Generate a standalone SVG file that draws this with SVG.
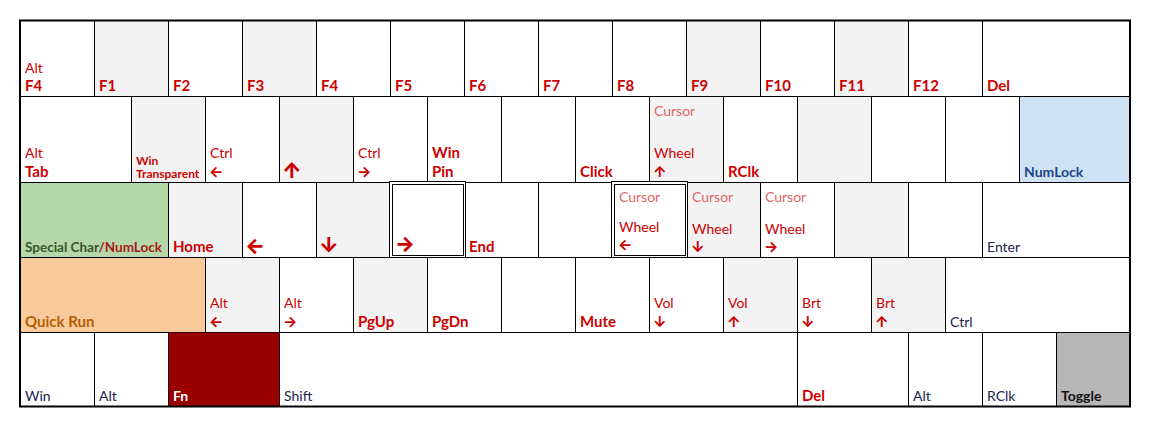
<svg xmlns="http://www.w3.org/2000/svg" width="1150" height="430" viewBox="0 0 1150 430">
<style>
rect{stroke:#000;stroke-width:1}
.w{fill:#fff}.g{fill:#f3f3f3}
text{font-family:Lato,"Liberation Sans",sans-serif;font-size:14px}
.b{font-weight:bold;font-size:15px;fill:#cc0000}
.r{fill:#cc0000}
.c{fill:#e06666}
.n{fill:#1a2350}
.a{font-family:Inter,"DejaVu Sans",sans-serif;font-weight:bold;fill:#cc0000;font-size:15px}
.A{font-family:Inter,"DejaVu Sans",sans-serif;font-weight:800;fill:#cc0000;font-size:21px}
.s{font-weight:bold;font-size:12px;fill:#cc0000}
</style>
<rect x="0" y="0" width="1150" height="430" style="fill:#fff;stroke:none"/>
<g id="row1">
<g id="k-altf4"><rect class="w" x="20.5" y="20.5" width="74" height="76"/><text class="r" x="25" y="73">Alt</text><text class="b" x="25" y="91">F4</text></g>
<g id="k-f1"><rect class="g" x="94.5" y="20.5" width="74" height="76"/><text class="b" x="99" y="91">F1</text></g>
<g id="k-f2"><rect class="w" x="168.5" y="20.5" width="74" height="76"/><text class="b" x="173" y="91">F2</text></g>
<g id="k-f3"><rect class="g" x="242.5" y="20.5" width="74" height="76"/><text class="b" x="247" y="91">F3</text></g>
<g id="k-f4"><rect class="w" x="316.5" y="20.5" width="74" height="76"/><text class="b" x="321" y="91">F4</text></g>
<g id="k-f5"><rect class="w" x="390.5" y="20.5" width="74" height="76"/><text class="b" x="395" y="91">F5</text></g>
<g id="k-f6"><rect class="w" x="464.5" y="20.5" width="74" height="76"/><text class="b" x="469" y="91">F6</text></g>
<g id="k-f7"><rect class="w" x="538.5" y="20.5" width="74" height="76"/><text class="b" x="543" y="91">F7</text></g>
<g id="k-f8"><rect class="w" x="612.5" y="20.5" width="74" height="76"/><text class="b" x="617" y="91">F8</text></g>
<g id="k-f9"><rect class="g" x="686.5" y="20.5" width="74" height="76"/><text class="b" x="691" y="91">F9</text></g>
<g id="k-f10"><rect class="w" x="760.5" y="20.5" width="74" height="76"/><text class="b" x="765" y="91">F10</text></g>
<g id="k-f11"><rect class="g" x="834.5" y="20.5" width="74" height="76"/><text class="b" x="839" y="91">F11</text></g>
<g id="k-f12"><rect class="w" x="908.5" y="20.5" width="74" height="76"/><text class="b" x="913" y="91">F12</text></g>
<g id="k-del1"><rect class="w" x="982.5" y="20.5" width="147.5" height="76"/><text class="b" x="987" y="91">Del</text></g>
</g>
<g id="row2">
<g id="k-alttab"><rect class="w" x="20.5" y="96.5" width="111" height="86"/><text class="r" x="25" y="158">Alt</text><text class="b" x="25" y="177">Tab</text></g>
<g id="k-wintr"><rect class="g" x="131.5" y="96.5" width="74" height="86"/><text class="s" x="136" y="165">Win</text><text class="s" x="136" y="178">Transparent</text></g>
<g id="k-ctrlleft"><rect class="w" x="205.5" y="96.5" width="74" height="86"/><text class="r" x="210" y="158">Ctrl</text><text class="a" x="209" y="177">←</text></g>
<g id="k-up"><rect class="g" x="279.5" y="96.5" width="74" height="86"/><text class="A" x="282" y="178">↑</text></g>
<g id="k-ctrlright"><rect class="w" x="353.5" y="96.5" width="74" height="86"/><text class="r" x="358" y="158">Ctrl</text><text class="a" x="357" y="177">→</text></g>
<g id="k-winpin"><rect class="w" x="427.5" y="96.5" width="74" height="86"/><text class="b" x="432" y="158">Win</text><text class="b" x="432" y="177">Pin</text></g>
<g id="k-r2e1"><rect class="w" x="501.5" y="96.5" width="74" height="86"/></g>
<g id="k-click"><rect class="w" x="575.5" y="96.5" width="74" height="86"/><text class="b" x="580" y="177">Click</text></g>
<g id="k-wheelup"><rect class="g" x="649.5" y="96.5" width="74" height="86"/><text class="c" x="654" y="116">Cursor</text><text class="r" x="654" y="158">Wheel</text><text class="a" x="653" y="177">↑</text></g>
<g id="k-rclk1"><rect class="w" x="723.5" y="96.5" width="74" height="86"/><text class="b" x="728" y="177">RClk</text></g>
<g id="k-r2e2"><rect class="g" x="797.5" y="96.5" width="74" height="86"/></g>
<g id="k-r2e3"><rect class="w" x="871.5" y="96.5" width="74" height="86"/></g>
<g id="k-r2e4"><rect class="w" x="945.5" y="96.5" width="74" height="86"/></g>
<g id="k-numlock"><rect fill="#cfe2f3" x="1019.5" y="96.5" width="110.5" height="86"/><text class="b" x="1024" y="177" style="fill:#1c4587;font-size:14px">NumLock</text></g>
</g>
<g id="row3">
<g id="k-special"><rect fill="#b6d7a8" x="20.5" y="182.5" width="148" height="75"/><text x="25" y="252" style="font-weight:bold;font-size:13.5px"><tspan fill="#38572a">Special Char</tspan><tspan fill="#a61c1c">/NumLock</tspan></text></g>
<g id="k-home"><rect class="g" x="168.5" y="182.5" width="74" height="75"/><text class="b" x="173" y="252">Home</text></g>
<g id="k-left"><rect class="w" x="242.5" y="182.5" width="74" height="75"/><text class="A" x="245" y="253">←</text></g>
<g id="k-down"><rect class="g" x="316.5" y="182.5" width="74" height="75"/><text class="A" x="319" y="253">↓</text></g>
<g id="k-right"><rect class="w" x="389.5" y="181.5" width="76" height="77"/><rect class="w" x="392.5" y="184.5" width="71" height="71"/><text class="A" x="395" y="251">→</text></g>
<g id="k-end"><rect class="w" x="465.5" y="182.5" width="73" height="75"/><text class="b" x="469" y="252">End</text></g>
<g id="k-r3e1"><rect class="w" x="538.5" y="182.5" width="74" height="75"/></g>
<g id="k-wheelleft"><rect class="w" x="611.5" y="181.5" width="76" height="77"/><rect class="w" x="614.5" y="184.5" width="71" height="71"/><text class="c" x="619" y="202">Cursor</text><text class="r" x="619" y="232">Wheel</text><text class="a" x="618" y="250">←</text></g>
<g id="k-wheeldown"><rect class="g" x="687.5" y="182.5" width="73" height="75"/><text class="c" x="692" y="202">Cursor</text><text class="r" x="692" y="234">Wheel</text><text class="a" x="691" y="252">↓</text></g>
<g id="k-wheelright"><rect class="w" x="760.5" y="182.5" width="74" height="75"/><text class="c" x="765" y="202">Cursor</text><text class="r" x="765" y="234">Wheel</text><text class="a" x="764" y="252">→</text></g>
<g id="k-r3e2"><rect class="g" x="834.5" y="182.5" width="74" height="75"/></g>
<g id="k-r3e3"><rect class="w" x="908.5" y="182.5" width="74" height="75"/></g>
<g id="k-enter"><rect class="w" x="982.5" y="182.5" width="147.5" height="75"/><text class="n" x="987" y="252">Enter</text></g>
</g>
<g id="row4">
<g id="k-quickrun"><rect fill="#f9cb9c" x="20.5" y="257.5" width="185" height="75"/><text class="b" x="25" y="327" style="fill:#b45f06">Quick Run</text></g>
<g id="k-altleft"><rect class="g" x="205.5" y="257.5" width="74" height="75"/><text class="r" x="210" y="308">Alt</text><text class="a" x="209" y="327">←</text></g>
<g id="k-altright"><rect class="w" x="279.5" y="257.5" width="74" height="75"/><text class="r" x="284" y="308">Alt</text><text class="a" x="283" y="327">→</text></g>
<g id="k-pgup"><rect class="g" x="353.5" y="257.5" width="74" height="75"/><text class="b" x="358" y="327">PgUp</text></g>
<g id="k-pgdn"><rect class="w" x="427.5" y="257.5" width="74" height="75"/><text class="b" x="432" y="327">PgDn</text></g>
<g id="k-r4e1"><rect class="w" x="501.5" y="257.5" width="74" height="75"/></g>
<g id="k-mute"><rect class="w" x="575.5" y="257.5" width="74" height="75"/><text class="b" x="580" y="327">Mute</text></g>
<g id="k-voldown"><rect class="w" x="649.5" y="257.5" width="74" height="75"/><text class="r" x="654" y="308">Vol</text><text class="a" x="653" y="327">↓</text></g>
<g id="k-volup"><rect class="g" x="723.5" y="257.5" width="74" height="75"/><text class="r" x="728" y="308">Vol</text><text class="a" x="727" y="327">↑</text></g>
<g id="k-brtdown"><rect class="w" x="797.5" y="257.5" width="74" height="75"/><text class="r" x="802" y="308">Brt</text><text class="a" x="801" y="327">↓</text></g>
<g id="k-brtup"><rect class="g" x="871.5" y="257.5" width="74" height="75"/><text class="r" x="876" y="308">Brt</text><text class="a" x="875" y="327">↑</text></g>
<g id="k-ctrl"><rect class="w" x="945.5" y="257.5" width="184.5" height="75"/><text class="n" x="950" y="327">Ctrl</text></g>
</g>
<g id="row5">
<g id="k-win"><rect class="w" x="20.5" y="332.5" width="74" height="74"/><text class="n" x="25" y="401">Win</text></g>
<g id="k-alt1"><rect class="w" x="94.5" y="332.5" width="74" height="74"/><text class="n" x="99" y="401">Alt</text></g>
<g id="k-shift"><rect class="w" x="279.5" y="332.5" width="518" height="74"/><text class="n" x="284" y="401">Shift</text></g>
<g id="k-fn"><rect x="168.5" y="332.5" width="111" height="74" style="fill:#990000;stroke:#000;stroke-dasharray:1 1"/><text class="b" x="173" y="401" style="fill:#fff;font-size:14px">Fn</text></g>
<g id="k-del2"><rect class="w" x="797.5" y="332.5" width="111" height="74"/><text class="b" x="802" y="401">Del</text></g>
<g id="k-alt2"><rect class="w" x="908.5" y="332.5" width="74" height="74"/><text class="n" x="913" y="401">Alt</text></g>
<g id="k-rclk2"><rect class="w" x="982.5" y="332.5" width="74" height="74"/><text class="n" x="987" y="401">RClk</text></g>
<g id="k-toggle"><rect fill="#b7b7b7" x="1056.5" y="332.5" width="73.5" height="74"/><text x="1061" y="401" style="font-weight:bold;font-size:14px;fill:#111">Toggle</text></g>
</g>
<rect x="20" y="20.5" width="1110" height="386" style="fill:none;stroke:#000;stroke-width:2"/>
</svg>
